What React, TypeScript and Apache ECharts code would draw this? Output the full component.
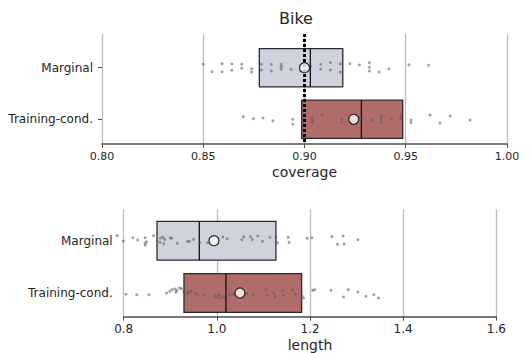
import React, { useEffect, useRef } from "react";
import * as echarts from "echarts";

// ---- data ----
const categories = ["Marginal", "Training-cond."];

// coverage box stats: [q1, median, q3]
const coverageBoxes = [
  [0.8777, 0.9029, 0.9189],
  [0.8986, 0.9281, 0.9485],
];
const coverageMeans = [0.9, 0.9243];
const targetCoverage = 0.9;

// length box stats: [q1, median, q3]
const lengthBoxes = [
  [0.8715, 0.9623, 1.1268],
  [0.9294, 1.0195, 1.182],
];
const lengthMeans = [0.9938, 1.0496];

// strip points: values and their vertical jitter (category units)
const covMarginalVals = [0.85, 0.8544, 0.8593, 0.8593, 0.8641, 0.8641, 0.869, 0.869, 0.8739, 0.8739, 0.8787, 0.8787, 0.8836, 0.8836, 0.8885, 0.8885, 0.8885, 0.8933, 0.8982, 0.903, 0.908, 0.908, 0.9128, 0.9128, 0.9177, 0.9177, 0.9224, 0.9271, 0.932, 0.932, 0.932, 0.9369, 0.9417, 0.9516, 0.9613];
const covMarginalJit = [-0.066, 0.078, -0.078, 0.078, -0.072, 0.05, -0.066, 0.012, 0.02, 0.083, -0.066, 0.045, -0.066, 0.064, -0.066, -0.02, 0.03, 0.03, 0.064, -0.03, -0.066, 0.025, -0.1, 0.045, -0.072, 0.083, -0.078, -0.052, -0.097, -0.008, 0.064, 0.083, 0.025, -0.058, -0.047];

const covTrainVals = [0.8698, 0.8747, 0.8795, 0.8844, 0.8942, 0.8942, 0.899, 0.899, 0.899, 0.9039, 0.9039, 0.9039, 0.9088, 0.9185, 0.9185, 0.9234, 0.9282, 0.9331, 0.938, 0.938, 0.938, 0.9429, 0.9477, 0.9477, 0.9526, 0.9526, 0.962, 0.9669, 0.9719, 0.9817];
const covTrainJit = [-0.05, -0.012, -0.025, 0.027, 0, 0.097, -0.045, 0.033, 0.09, -0.03, 0.02, 0.058, -0.083, -0.012, 0.052, 0, 0, 0.014, -0.064, -0.012, 0.052, -0.012, -0.064, -0.012, 0.014, 0.066, -0.083, 0.078, -0.064, 0.014];

const lenMarginalVals = [0.786, 0.799, 0.82, 0.83, 0.846, 0.846, 0.849, 0.846, 0.864, 0.872, 0.878, 0.879, 0.884, 0.888, 0.886, 0.9, 0.903, 0.915, 0.937, 0.941, 0.95, 0.963, 0.98, 1.013, 1.022, 1.054, 1.058, 1.072, 1.076, 1.088, 1.098, 1.114, 1.127, 1.13, 1.153, 1.155, 1.194, 1.204, 1.247, 1.259, 1.271, 1.273, 1.303];
const lenMarginalJit = [-0.096, 0.006, -0.057, -0.013, 0.051, 0.083, 0.019, -0.057, -0.096, 0, 0.032, -0.051, -0.064, -0.025, 0.057, -0.057, -0.045, 0.051, 0.013, 0.013, -0.025, 0.038, 0.038, -0.07, -0.038, -0.019, -0.077, -0.077, -0.025, -0.089, 0.013, -0.064, -0.07, 0.038, -0.064, 0.032, -0.045, -0.057, -0.077, 0.07, -0.089, 0.064, -0.019];

const lenTrainVals = [0.805, 0.828, 0.854, 0.892, 0.899, 0.904, 0.91, 0.912, 0.914, 0.92, 0.924, 0.929, 0.932, 0.938, 0.94, 0.945, 0.954, 0.959, 0.973, 0.996, 1.0, 1.005, 1.008, 1.015, 1.021, 1.028, 1.036, 1.064, 1.078, 1.106, 1.108, 1.122, 1.125, 1.141, 1.143, 1.162, 1.169, 1.183, 1.186, 1.206, 1.21, 1.245, 1.272, 1.282, 1.303, 1.32, 1.337, 1.347];
const lenTrainJit = [0.025, 0.032, 0.032, 0, -0.032, -0.064, -0.076, -0.013, -0.051, -0.096, -0.083, -0.019, 0.019, 0.013, -0.025, -0.038, 0, 0.032, 0.032, 0.057, 0.076, 0.038, 0.096, 0.076, 0, 0.032, 0.025, 0.013, 0.032, -0.064, 0.045, 0, 0.064, -0.051, 0.045, -0.051, 0.013, 0.057, 0.096, -0.051, -0.064, -0.051, 0.076, -0.064, -0.019, 0.064, 0.032, 0.096];

const coverageTicks = [0.8, 1.0, 0.05];
const lengthTicks = [0.8, 1.6, 0.2];

// ---- styles ----
const FONT = "DejaVu Sans";
const TEXT = "#262626";
const boxColors = ["#cfd3de", "#b06c6a"];
const HALF = 0.37;

function stripData(vals: number[], jit: number[], cat: number) {
  return vals.map((v, i) => [v, cat + jit[i]]);
}

function boxRender(params: any, api: any) {
  const c = api.value(0);
  const q1 = api.value(1);
  const med = api.value(2);
  const q3 = api.value(3);
  const p1 = api.coord([q1, c - HALF]);
  const p2 = api.coord([q3, c + HALF]);
  const m1 = api.coord([med, c - HALF]);
  const m2 = api.coord([med, c + HALF]);
  return {
    type: "group",
    children: [
      {
        type: "rect",
        shape: { x: p1[0], y: p1[1], width: p2[0] - p1[0], height: p2[1] - p1[1] },
        style: { fill: boxColors[params.dataIndex], stroke: "#2b2b2b", lineWidth: 1.3 },
      },
      {
        type: "line",
        shape: { x1: m1[0], y1: m1[1], x2: m2[0], y2: m2[1] },
        style: { stroke: "#111", lineWidth: 1.3 },
      },
    ],
  };
}

function makeXAxis(gridIndex: number, ticks: number[], digits: number, name: string, fontSize: number, margin: number) {
  return {
    type: "value",
    gridIndex,
    position: "bottom",
    min: ticks[0],
    max: ticks[1],
    interval: ticks[2],
    name,
    nameLocation: "middle",
    nameGap: 21,
    nameTextStyle: { fontFamily: FONT, fontSize: 14, color: TEXT },
    axisLine: { show: true, onZero: false, lineStyle: { color: "#4d4d4d", width: 1.5 } },
    axisTick: { show: true, length: 4, lineStyle: { color: "#4d4d4d", width: 1 } },
    axisLabel: {
      fontFamily: FONT,
      fontSize,
      color: TEXT,
      margin,
      formatter: (v: number) => v.toFixed(digits),
    },
    splitLine: { show: true, lineStyle: { color: "#bdbdbd", width: 1.3 } },
  };
}

function makeYAxis(gridIndex: number, min: number, max: number, showTick: boolean, margin: number, padBottom: number) {
  return {
    type: "value",
    gridIndex,
    inverse: true,
    min,
    max,
    axisLine: { show: false, onZero: false },
    splitLine: { show: false },
    axisTick: {
      show: showTick,
      length: 4,
      customValues: [0, 1],
      lineStyle: { color: "#4d4d4d", width: 1 },
    },
    axisLabel: {
      customValues: [0, 1],
      fontFamily: FONT,
      fontSize: 12,
      color: TEXT,
      margin,
      padding: [0, 0, padBottom, 0],
      formatter: (v: number) => categories[Math.round(v)] ?? "",
    },
  };
}

export default function App() {
  const ref = useRef<HTMLDivElement>(null);
  useEffect(() => {
    if (!ref.current) return;
    const chart = echarts.init(ref.current, null, { renderer: "svg" });
    const option: any = {
      animation: false,
      title: {
        text: "Bike",
        left: 274,
        top: 5,
        textStyle: { fontFamily: FONT, fontSize: 16, fontWeight: "normal", color: TEXT },
      },
      grid: [
        { left: 102, top: 34, width: 405, height: 110 },
        { left: 123.7, top: 209.3, width: 372.6, height: 107.4 },
      ],
      xAxis: [
        makeXAxis(0, coverageTicks, 2, "coverage", 11, 7),
        makeXAxis(1, lengthTicks, 1, "length", 12, 6),
      ],
      yAxis: [makeYAxis(0, -0.653, 1.479, true, 9, 0), makeYAxis(1, -0.6, 1.453, false, 11, 8)],
      series: [
        {
          type: "custom",
          xAxisIndex: 0,
          yAxisIndex: 0,
          renderItem: boxRender,
          encode: { x: [1, 2, 3], y: 0 },
          data: coverageBoxes.map((b, i) => [i, b[0], b[1], b[2]]),
          z: 1,
          silent: true,
        },
        {
          type: "custom",
          xAxisIndex: 1,
          yAxisIndex: 1,
          renderItem: boxRender,
          encode: { x: [1, 2, 3], y: 0 },
          data: lengthBoxes.map((b, i) => [i, b[0], b[1], b[2]]),
          z: 1,
          silent: true,
        },
        ...[
          [0, stripData(covMarginalVals, covMarginalJit, 0).concat(stripData(covTrainVals, covTrainJit, 1))],
          [1, stripData(lenMarginalVals, lenMarginalJit, 0).concat(stripData(lenTrainVals, lenTrainJit, 1))],
        ].map(([gi, data]: any) => ({
          type: "scatter",
          xAxisIndex: gi,
          yAxisIndex: gi,
          data,
          symbolSize: 3,
          clip: false,
          itemStyle: { color: "rgba(90,90,90,0.7)" },
          z: 2,
          silent: true,
        })),
        {
          type: "scatter",
          xAxisIndex: 0,
          yAxisIndex: 0,
          data: [],
          z: 3,
          markLine: {
            silent: true,
            symbol: ["none", "none"],
            label: { show: false },
            lineStyle: { color: "#000", width: 3, type: [3, 2] },
            data: [{ xAxis: targetCoverage }],
          },
        },
        {
          type: "scatter",
          xAxisIndex: 0,
          yAxisIndex: 0,
          data: coverageMeans.map((m, i) => [m, i]),
          symbol: "circle",
          symbolSize: 10,
          itemStyle: { color: "#fff", borderColor: "#000", borderWidth: 1.2 },
          z: 5,
          silent: true,
        },
        {
          type: "scatter",
          xAxisIndex: 1,
          yAxisIndex: 1,
          data: lengthMeans.map((m, i) => [m, i]),
          symbol: "circle",
          symbolSize: 10,
          itemStyle: { color: "#fff", borderColor: "#000", borderWidth: 1.2 },
          z: 5,
          silent: true,
        },
      ],
    };
    chart.setOption(option);
    return () => chart.dispose();
  }, []);
  return (
    <div
      ref={ref}
      style={{ position: "absolute", left: 0, top: 0, width: 529, height: 353 }}
    />
  );
}
